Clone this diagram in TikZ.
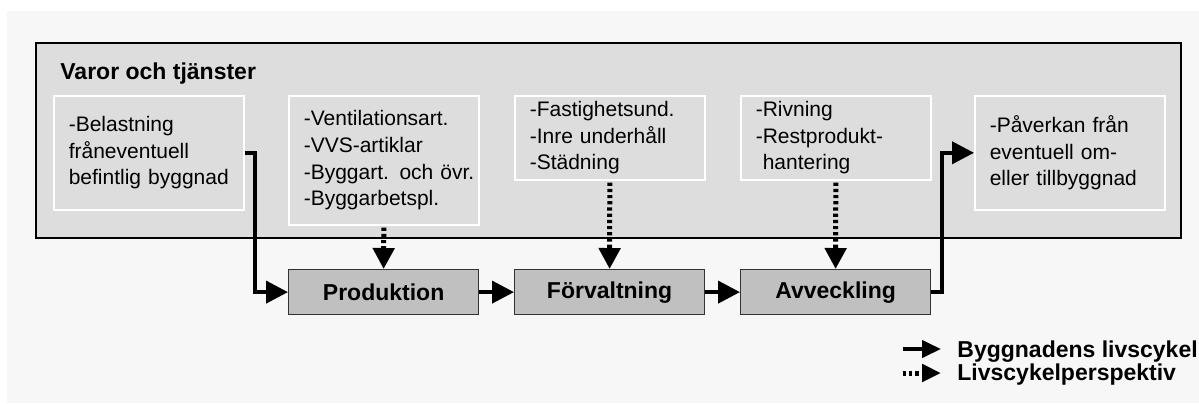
\documentclass[tikz,border=0pt]{standalone}
\usepackage{fontspec}
\setmainfont{Liberation Sans}
\usetikzlibrary{arrows.meta}
\definecolor{bggray}{HTML}{F7F7F7}
\definecolor{boxgray}{HTML}{DDDDDD}
\definecolor{phasegray}{HTML}{C0C0C0}

\begin{document}
\begin{tikzpicture}[x=0.5pt,y=-0.5pt,
item/.style={fill=boxgray,draw=white,line width=0.8pt,anchor=north west,
  text width=91pt,inner xsep=2pt,inner ysep=0pt,align=left,
  execute at begin node={\leftskip=5.5pt},
  font=\fontsize{10.5}{13.3}\selectfont},
phase/.style={fill=phasegray,draw=black!80,line width=0.6pt,anchor=north west,
  minimum width=95pt,minimum height=22.5pt,
  font=\fontsize{11.5}{13}\selectfont\bfseries},
life/.style={line width=2pt,-{Triangle[length=11pt,width=11pt]}},
persp/.style={line width=2.5pt,dash pattern=on 1.6pt off 1.5pt,
  -{Triangle[length=10.5pt,width=10.5pt]}},
key/.style={anchor=base west,inner sep=0pt,font=\fontsize{11.5}{13}\selectfont\bfseries}]
\useasboundingbox (0,0) rectangle (1199,403);
\fill[white] (0,0) rectangle (1199,403);
\fill[bggray] (7,11) rectangle (1199,403);
\draw[fill=boxgray,line width=0.6pt] (36,43) rectangle (1181,238);
\node[anchor=base west,inner sep=0pt,font=\fontsize{11.5}{13}\selectfont\bfseries] (title) at (60,79) {Varor och tjänster};

\node[item,minimum height=57pt] (b1) at (53,95) {-Belastning\\fråneventuell\\befintlig byggnad};
\node[item,minimum height=64.5pt] (b2) at (288,95) {-Ventilationsart.\\-VVS-artiklar\\-Byggart. och övr.\\-Byggarbetspl.};
\node[item,minimum height=42pt] (b3) at (514,95) {-Fastighetsund.\\-Inre underhåll\\-Städning};
\node[item,minimum height=42pt] (b4) at (740,95) {-Rivning\\-Restprodukt-\\\ hantering};
\node[item,minimum height=57pt] (b5) at (974,95) {-Påverkan från\\eventuell om-\\eller tillbyggnad};

\node[phase] (prod) at (288,269) {Produktion};
\node[phase] (forv) at (514,269) {Förvaltning};
\node[phase] (avv) at (740,269) {Avveckling};

\draw[life] (b1.east) -- ++(10,0) |- (prod.west);
\draw[life] (prod) -- (forv);
\draw[life] (forv) -- (avv);
\draw[life] (avv.east) -- ++(11,0) |- (b5.west);
\draw[persp,shorten <=1pt] (b2.south) -- (prod.north);
\draw[persp,shorten <=1pt] (b3.south) -- (forv.north);
\draw[persp,shorten <=1pt] (b4.south) -- (avv.north);

\coordinate (k1a) at (903,349);
\coordinate (k1b) at (941,349);
\coordinate (k2a) at (903,373);
\coordinate (k2b) at (941,373);
\draw[life,-{Triangle[length=9.5pt,width=8.5pt]}] (k1a) -- (k1b);
\draw[persp,-{Triangle[length=9.5pt,width=8.5pt]}] (k2a) -- (k2b);
\node[key] (k1) at (957,357) {Byggnadens livscykel};
\node[key] (k2) at (957,380) {Livscykelperspektiv};
\end{tikzpicture}
\end{document}
